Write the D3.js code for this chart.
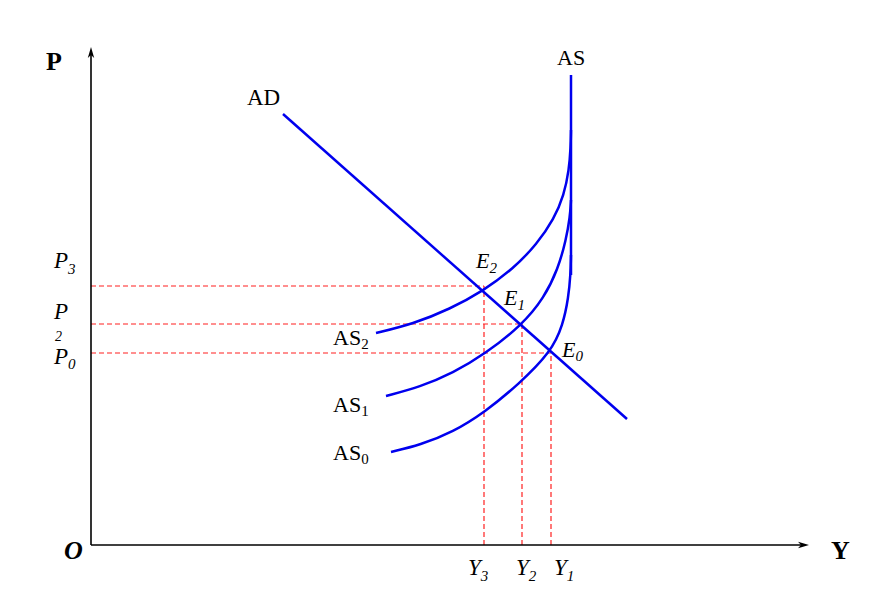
<!DOCTYPE html>
<html>
<head>
<meta charset="utf-8">
<script src="https://cdn.jsdelivr.net/npm/d3@7"></script>
<style>
  html, body { margin: 0; padding: 0; background: #fff; }
  svg { display: block; }
  text { font-family: "Liberation Serif", "Times New Roman", serif; fill: #000; }
</style>
</head>
<body>
<svg id="chart" width="890" height="602"></svg>
<script>
// ---- data (units measured from the origin O) ----
const axisMax = { x: 718, y: 498 };
const adLine = [[192, 431], [536, 126]];
const priceLevels = [259, 221, 192];      // P3, P2, P0
const outputLevels = [393, 431, 460];     // Y3, Y2, Y1
const asVertical = [[480, 270], [480, 470]];
const as2 = [[285, 212], [322, 221], [359, 236], [392, 254], [422, 276], [446, 301], [463, 326], [473, 350], [478, 375], [479.7, 398], [480, 415]];
const as1 = [[295, 149], [329, 158], [362, 172], [394, 191], [431, 220], [453, 247], [467, 276], [475, 305], [479, 328], [480, 345]];
const as0 = [[300, 93], [329, 100], [362, 113], [394, 133], [428, 161], [460, 193], [472, 220], [477.5, 248], [479.5, 270], [480, 290]];

const svg = d3.select("#chart");
const x = d3.scaleLinear().domain([0, axisMax.x]).range([91, 809]);
const y = d3.scaleLinear().domain([0, axisMax.y]).range([545, 47]);

const blue = "#0000ee";
const red = "#ff2020";

// dashed guide lines
const pairs = d3.zip(priceLevels, outputLevels);
const guides = svg.append("g").attr("stroke", red).attr("stroke-width", 1.2).attr("stroke-dasharray", "5,3").attr("fill", "none");
pairs.forEach(([p, q]) => {
  guides.append("line")
    .attr("x1", x(0)).attr("y1", y(p)).attr("x2", x(q)).attr("y2", y(p));
  guides.append("line")
    .attr("x1", x(q)).attr("y1", y(0)).attr("x2", x(q)).attr("y2", y(p));
});

// axes
svg.append("line").attr("x1", x(0)).attr("y1", y(0)).attr("x2", x(0)).attr("y2", y(axisMax.y) + 4)
  .attr("stroke", "#000").attr("stroke-width", 1.6);
svg.append("line").attr("x1", x(0)).attr("y1", y(0)).attr("x2", x(axisMax.x) - 4).attr("y2", y(0))
  .attr("stroke", "#000").attr("stroke-width", 1.6);
// arrowheads
const tx = x(0), ty = y(axisMax.y);
svg.append("path")
  .attr("d", `M${tx},${ty} L${tx - 3.2},${ty + 11} L${tx},${ty + 8} L${tx + 3.2},${ty + 11} Z`)
  .attr("fill", "#000");
const rx = x(axisMax.x), ry = y(0);
svg.append("path")
  .attr("d", `M${rx},${ry} L${rx - 11},${ry - 3.2} L${rx - 8},${ry} L${rx - 11},${ry + 3.2} Z`)
  .attr("fill", "#000");

// curves
const line = d3.line().x(d => x(d[0])).y(d => y(d[1])).curve(d3.curveBasis);
const straight = d3.line().x(d => x(d[0])).y(d => y(d[1]));
[as2, as1, as0].forEach(c => {
  svg.append("path").attr("d", line(c)).attr("fill", "none")
    .attr("stroke", blue).attr("stroke-width", 2.5);
});
svg.append("path").attr("d", straight(asVertical)).attr("fill", "none")
  .attr("stroke", blue).attr("stroke-width", 2.5);
svg.append("path").attr("d", straight(adLine)).attr("fill", "none")
  .attr("stroke", blue).attr("stroke-width", 2.5);

// text helpers
function label(xp, yp, main, sub, opts = {}) {
  const t = svg.append("text").attr("x", xp).attr("y", yp)
    .attr("font-size", opts.size || 22)
    .attr("font-style", opts.italic ? "italic" : "normal")
    .attr("font-weight", opts.bold ? "bold" : "normal");
  t.append("tspan").text(main);
  if (sub !== undefined) {
    t.append("tspan").attr("dy", opts.subDy || 5).attr("font-size", opts.subSize || 15).text(sub);
  }
  return t;
}

// axis titles
label(46, 70, "P", undefined, { bold: true, size: 26 });
label(64, 559, "O", undefined, { bold: true, italic: true, size: 26 });
label(831, 559, "Y", undefined, { bold: true, size: 26 });

// curve labels
label(247, 105, "AD", undefined, { size: 23 });
label(557, 65, "AS", undefined, { size: 22 });
label(333, 345, "AS", "2", { size: 22, subDy: 4 });
label(333, 412, "AS", "1", { size: 22, subDy: 4 });
label(333, 460, "AS", "0", { size: 22, subDy: 4 });

// price labels
label(54, 268, "P", "3", { italic: true, size: 23, subDy: 6 });
label(54, 319, "P", undefined, { italic: true, size: 23 });
label(55, 341, "2", undefined, { italic: true, size: 14 });
label(54, 364, "P", "0", { italic: true, size: 23, subDy: 5 });

// equilibrium labels
label(476, 268, "E", "2", { italic: true, size: 22, subDy: 5 });
label(504, 305, "E", "1", { italic: true, size: 22, subDy: 5 });
label(562, 357, "E", "0", { italic: true, size: 22, subDy: 4 });

// output labels
label(468, 575, "Y", "3", { italic: true, size: 23, subDy: 6 });
label(516, 575, "Y", "2", { italic: true, size: 23, subDy: 6 });
label(554, 575, "Y", "1", { italic: true, size: 23, subDy: 6 });
</script>
</body>
</html>
